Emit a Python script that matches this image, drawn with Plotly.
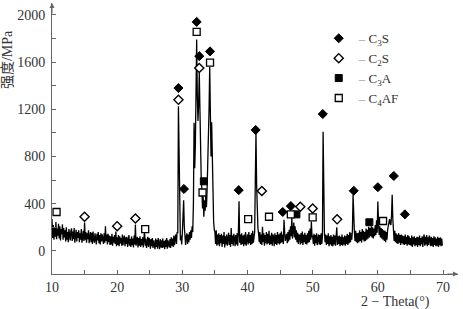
import numpy as np
import plotly.graph_objects as go

# XRD pattern: 2-Theta from 10.0 to 69.9 in 0.1 degree steps
theta_start = 10.0
theta_step = 0.1
intensity = [
    270,110,220,95,200,120,245,100,190,130,
    230,105,210,90,185,140,225,95,195,115,
    175,80,200,95,160,75,185,120,90,170,
    190,85,165,100,195,70,150,180,80,160,
    110,175,75,150,95,185,70,140,170,85,
    240,95,160,70,150,100,175,65,140,160,
    75,155,60,165,95,70,150,110,55,145,
    90,160,65,135,55,150,80,140,100,60,
    150,70,210,85,140,55,145,75,130,50,
    125,55,145,45,120,70,135,60,165,40,
    115,50,135,40,125,65,110,45,140,50,
    105,130,40,115,60,120,35,110,135,45,
    100,35,125,50,105,30,130,55,225,45,
    95,120,30,110,45,125,35,100,50,115,
    30,100,170,45,105,25,95,120,35,110,
    85,20,100,40,110,25,90,45,15,105,
    35,95,20,110,45,15,100,30,90,25,
    105,30,85,15,95,35,110,20,90,40,
    30,100,25,115,45,105,35,130,50,110,
    140,60,160,150,1225,620,200,90,130,55,
    150,310,430,210,95,50,120,150,60,140,
    75,160,95,175,110,210,160,400,1085,700,
    900,1400,1790,1300,1100,1250,1510,1200,800,600,
    520,360,460,290,430,340,480,370,520,700,
    900,1200,1560,1100,800,1090,700,400,250,180,
    160,60,175,45,140,55,150,40,135,65,
    145,35,130,60,160,30,125,55,140,45,
    120,155,50,135,35,195,60,130,45,145,
    110,40,135,55,150,45,160,420,70,140,
    50,150,60,130,40,140,55,160,45,125,
    140,55,160,65,135,50,150,60,170,70,
    130,160,600,1000,560,300,190,150,75,160,
    60,140,50,205,75,150,45,135,65,160,
    55,145,65,170,50,130,60,155,45,140,
    120,40,150,60,135,50,160,65,140,55,
    150,65,165,75,140,60,265,160,85,115,
    145,65,160,80,180,95,210,125,290,105,
    190,240,115,210,95,175,75,155,60,140,
    130,55,150,65,165,50,140,75,155,60,
    135,55,150,70,170,75,190,95,250,115,
    130,60,145,45,135,65,150,50,125,140,
    55,135,50,150,60,130,1010,500,160,75,
    140,50,130,60,150,40,125,55,135,45,
    120,40,140,55,130,45,115,200,50,125,
    60,130,40,120,50,140,45,115,55,130,
    45,125,60,145,50,135,65,160,75,150,
    95,180,475,260,160,85,170,75,150,65,
    155,75,175,85,160,70,185,95,170,80,
    160,85,190,95,180,105,205,115,195,125,
    210,115,200,105,190,125,220,135,260,155,
    418,240,135,210,115,195,105,185,95,175,
    85,170,75,160,95,180,210,240,270,230,
    220,300,475,270,160,85,170,75,150,65,
    140,60,150,70,135,50,140,65,130,55,
    125,50,140,60,120,45,135,55,125,50,
    110,45,130,35,115,55,125,40,110,50,
    120,35,115,50,130,40,110,55,125,35,
    105,140,45,120,55,135,40,115,50,130,
    100,40,120,45,110,35,125,50,115,40,
    105,45,120,35,110,50,115,40,105,45,
]
two_theta = np.round(theta_start + theta_step * np.arange(len(intensity)), 1)

# Phase markers
c3s_x = [29.4, 30.25, 32.2, 32.6, 34.25, 38.65, 41.25, 45.4, 46.65, 51.55, 56.3, 60.0, 62.45, 64.15]
c3s_y = [1380, 525, 1940, 1650, 1690, 515, 1025, 330, 380, 1160, 510, 540, 635, 310]
c2s_x = [15.0, 20.0, 22.8, 29.4, 32.6, 42.2, 48.1, 50.0, 53.75]
c2s_y = [290, 210, 275, 1280, 1550, 508, 375, 360, 268]
c3a_x = [33.3, 47.5, 58.7]
c3a_y = [590, 310, 243]
c4af_x = [10.7, 24.3, 32.2, 33.1, 34.25, 40.1, 43.3, 46.65, 50.0, 60.8]
c4af_y = [330, 185, 1855, 495, 1595, 270, 290, 310, 285, 254]

x_ticks = [10, 20, 30, 40, 50, 60, 70]
y_ticks = [0, 400, 800, 1200, 1600, 2000]

axis_col = "#666666"
txt_col = "#333333"
serif = "Liberation Serif, Noto Sans CJK SC, serif"

fig = go.Figure()
fig.add_trace(go.Scatter(x=two_theta, y=intensity, mode="lines",
                         line=dict(color="black", width=1.3), showlegend=False,
                         hoverinfo="skip"))

dash = "<span style='color:#999999'>–</span> "
fig.add_trace(go.Scatter(x=c3s_x, y=c3s_y, mode="markers", name=dash + "C<sub>3</sub>S",
                         marker=dict(symbol="diamond", size=7, color="black",
                                     line=dict(color="black", width=1))))
fig.add_trace(go.Scatter(x=c2s_x, y=c2s_y, mode="markers", name=dash + "C<sub>2</sub>S",
                         marker=dict(symbol="diamond", size=7, color="white",
                                     line=dict(color="black", width=1.4))))
fig.add_trace(go.Scatter(x=c3a_x, y=c3a_y, mode="markers", name=dash + "C<sub>3</sub>A",
                         marker=dict(symbol="square", size=7, color="black",
                                     line=dict(color="black", width=1))))
fig.add_trace(go.Scatter(x=c4af_x, y=c4af_y, mode="markers", name=dash + "C<sub>4</sub>AF",
                         marker=dict(symbol="square", size=7, color="white",
                                     line=dict(color="black", width=1.3))))

fig.update_layout(
    width=463, height=309, autosize=False,
    margin=dict(l=52, r=5, t=3, b=35),
    paper_bgcolor="white", plot_bgcolor="white",
    font=dict(family=serif, size=14, color=txt_col),
    showlegend=True,
    legend=dict(x=0.657, y=0.925, xanchor="left", yanchor="top",
                bgcolor="rgba(0,0,0,0)", borderwidth=0,
                font=dict(family=serif, size=13, color=txt_col)),
    xaxis=dict(range=[10, 72.3], tickmode="array", tickvals=x_ticks,
               showgrid=False, zeroline=False, showline=True,
               linecolor=axis_col, linewidth=1,
               ticks="inside", ticklen=4, tickcolor=axis_col,
               minor=dict(ticks="inside", ticklen=4, tickcolor=axis_col, dtick=5, showgrid=False),
               tickfont=dict(family=serif, size=14, color=txt_col)),
    yaxis=dict(range=[-195, 2100], tickmode="array", tickvals=y_ticks,
               showgrid=False, zeroline=False, showline=True,
               linecolor=axis_col, linewidth=1,
               ticks="inside", ticklen=4, tickcolor=axis_col, ticklabelstandoff=3,
               minor=dict(ticks="inside", ticklen=4, tickcolor=axis_col, dtick=200, showgrid=False),
               tickfont=dict(family=serif, size=14, color=txt_col)),
)

# axis arrows
fig.add_annotation(x=0, y=1, xref="paper", yref="paper", ax=0, ay=12,
                   axref="pixel", ayref="pixel", text="", showarrow=True,
                   arrowhead=2, arrowsize=1, arrowwidth=1, arrowcolor=axis_col, standoff=0)
fig.add_annotation(x=1, y=0, xref="paper", yref="paper", ax=-12, ay=0,
                   axref="pixel", ayref="pixel", text="", showarrow=True,
                   arrowhead=2, arrowsize=1, arrowwidth=1, arrowcolor=axis_col, standoff=0)

# axis titles
fig.add_annotation(text="强度/MPa", textangle=-90, xref="paper", yref="paper",
                   x=-0.108, y=0.79, xanchor="center", yanchor="middle", showarrow=False,
                   font=dict(family=serif, size=14, color=txt_col))
fig.add_annotation(text="2 − Theta(°)", xref="paper", yref="paper",
                   x=0.845, y=-0.103, xanchor="center", yanchor="middle", showarrow=False,
                   font=dict(family=serif, size=14, color=txt_col))

fig.write_html("out.html")
